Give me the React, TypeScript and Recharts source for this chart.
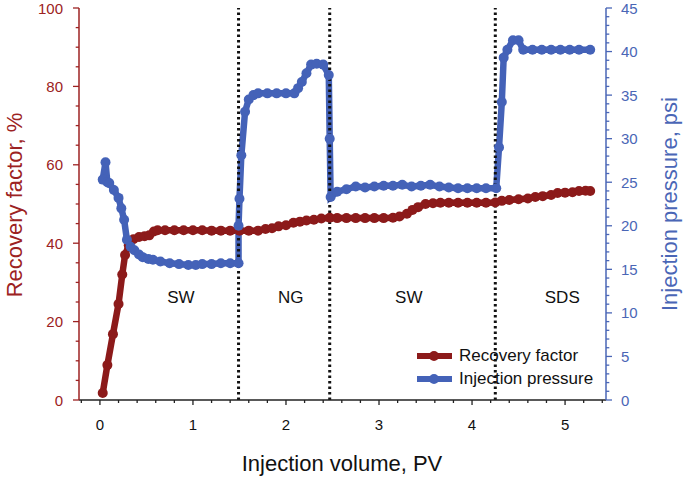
import React from "react";
import {
  Customized,
  Legend,
  Line,
  LineChart,
  ReferenceDot,
  ReferenceLine,
  XAxis,
  YAxis,
} from "recharts";

const RED = "#8c1a1a";
const RED_AXIS = "#9c2222";
const BLUE = "#4462b8";
const BLUE_AXIS = "#4a66b6";
const FONT = "'Liberation Sans', Arial, sans-serif";

const SERIES_ORDER = ["Recovery factor", "Injection pressure"];

// Recovery factor, % (left axis)
const RF_X = [
  0.03, 0.08, 0.14, 0.2, 0.24, 0.27, 0.31, 0.36, 0.42, 0.48, 0.53, 0.58, 0.62,
  0.7, 0.8, 0.9, 1.0, 1.1, 1.2, 1.3, 1.4, 1.5, 1.6, 1.7, 1.78, 1.85, 1.92, 2.0,
  2.08, 2.15, 2.22, 2.3, 2.38, 2.47, 2.55, 2.65, 2.75, 2.85, 2.95, 3.05, 3.15,
  3.22, 3.3, 3.36, 3.42, 3.5, 3.58, 3.66, 3.75, 3.85, 3.95, 4.05, 4.15, 4.25,
  4.32, 4.4, 4.5, 4.6, 4.68, 4.76, 4.85, 4.92, 5.0, 5.08, 5.15, 5.22, 5.27,
];
const RF_Y = [
  1.8, 8.9, 16.8, 24.5, 32, 37, 39.5, 41, 41.6, 41.8, 42, 43, 43.3,
  43.3, 43.3, 43.3, 43.3, 43.3, 43.2, 43.2, 43.2, 43.2, 43.2, 43.2, 43.6, 43.8, 44.3, 44.6,
  45.2, 45.5, 45.8, 46.0, 46.3, 46.5, 46.4, 46.4, 46.4, 46.4, 46.4, 46.4, 46.5,
  46.8, 47.5, 48.5, 49.2, 50, 50.2, 50.3, 50.3, 50.3, 50.3, 50.3, 50.3, 50.4,
  50.8, 51, 51.2, 51.4, 51.8, 52, 52.3, 52.8, 52.9, 53, 53.3, 53.4, 53.3,
];

// Injection pressure, psi (right axis)
const P_X = [
  0.03, 0.06, 0.08, 0.1, 0.15, 0.2, 0.23, 0.26, 0.29, 0.33, 0.37, 0.42, 0.46,
  0.52, 0.57, 0.65, 0.75, 0.85, 0.95, 1.03, 1.1, 1.2, 1.3, 1.4, 1.49, 1.49,
  1.5, 1.52, 1.56, 1.6, 1.65, 1.7, 1.8, 1.9, 2.0, 2.09, 2.13, 2.17, 2.22, 2.27,
  2.33, 2.4, 2.46, 2.47, 2.48, 2.55, 2.65, 2.75, 2.85, 2.95, 3.05, 3.15, 3.25,
  3.35, 3.45, 3.55, 3.65, 3.75, 3.85, 3.95, 4.05, 4.15, 4.26, 4.29, 4.32, 4.34,
  4.38, 4.44, 4.5, 4.55, 4.65, 4.75, 4.85, 4.95, 5.05, 5.15, 5.27,
];
const P_Y = [
  25.3, 27.3, 25, 24.9, 24.1, 23.2, 22, 20.7, 18.4, 17.6, 17.2, 16.7, 16.4,
  16.2, 16.1, 15.9, 15.7, 15.6, 15.5, 15.5, 15.6, 15.6, 15.7, 15.7, 15.7, 20,
  23.1, 28.1, 33.1, 34.5, 35.0, 35.2, 35.2, 35.2, 35.2, 35.2, 35.8, 36.5, 37.5, 38.5,
  38.6, 38.5, 37.3, 30, 23.3, 23.9, 24.2, 24.5, 24.4, 24.5, 24.6, 24.6, 24.7,
  24.5, 24.6, 24.7, 24.5, 24.4, 24.3, 24.3, 24.3, 24.3, 24.3, 29, 34.2, 39.3,
  40.2, 41.3, 41.3, 40.2, 40.2, 40.2, 40.2, 40.2, 40.2, 40.2, 40.2,
];

const X_MAJOR = [0, 1, 2, 3, 4, 5];
const X_TICKS = Array.from({ length: 29 }, (_, i) => Math.round((-0.2 + i * 0.2) * 10) / 10);
const RF_MAJOR = [0, 20, 40, 60, 80, 100];
const RF_TICKS = Array.from({ length: 21 }, (_, i) => i * 5);
const P_MAJOR = [0, 5, 10, 15, 20, 25, 30, 35, 40, 45];
const P_TICKS = Array.from({ length: 46 }, (_, i) => i);

const STAGE_LINES = [1.49, 2.47, 4.25];
const STAGES = [
  { x: 0.87, label: "SW" }, { x: 2.05, label: "NG" },
  { x: 3.32, label: "SW" }, { x: 4.97, label: "SDS" },
];
const STAGE_LABEL_Y = 26.3;

const rfData = RF_X.map((x, i) => ({ x, y: RF_Y[i] }));
const pData = P_X.map((x, i) => ({ x, y: P_Y[i] }));

function makeTick(side: "bottom" | "left" | "right", majors: number[], color: string) {
  return (props: any) => {
    const { x, y, payload } = props;
    const v = payload.value;
    const major = majors.some((m) => Math.abs(m - v) < 1e-6);
    const len = major ? 6 : 3.3;
    if (side === "bottom") {
      return (
        <g>
          <line x1={x} x2={x} y1={y} y2={y + (major ? 5 : 3)} stroke="#222" strokeWidth={1.3} />
          {major && (
            <text x={x} y={y + 30} textAnchor="middle" fontSize={15} fill="#111" fontFamily={FONT}>
              {v}
            </text>
          )}
        </g>
      );
    }
    const dir = side === "left" ? -1 : 1;
    return (
      <g>
        <line x1={x} x2={x + dir * len} y1={y} y2={y} stroke={color} strokeWidth={1.3} />
        {major && (
          <text
            x={side === "left" ? x - 16 : x + 15}
            y={y + 5.5}
            textAnchor={side === "left" ? "end" : "start"}
            fontSize={15}
            fill={color}
            fontFamily={FONT}
          >
            {v}
          </text>
        )}
      </g>
    );
  };
}

function LegendBox(props: any) {
  const items = [...(props.payload || [])].sort(
    (a: any, b: any) => SERIES_ORDER.indexOf(a.value) - SERIES_ORDER.indexOf(b.value)
  );
  return (
    <div style={{ fontFamily: FONT, fontSize: 17, color: "#111", lineHeight: "23px" }}>
      {items.map((it: any) => (
        <div key={it.value} style={{ display: "flex", alignItems: "center" }}>
          <svg width={42} height={12}>
            <line x1={0} x2={35} y1={6} y2={6} stroke={it.color} strokeWidth={6} />
            <circle cx={17} cy={6} r={5} fill={it.color} />
          </svg>
          <span>{it.value}</span>
        </div>
      ))}
    </div>
  );
}

function Titles() {
  return (
    <g fontFamily={FONT} fontSize={22}>
      <text x={342} y={471} textAnchor="middle" fill="#111">Injection volume, PV</text>
      <text x={22} y={205} textAnchor="middle" fill={RED_AXIS} transform="rotate(-90 22 205)">
        Recovery factor, %
      </text>
      <text x={677} y={204} textAnchor="middle" fill={BLUE_AXIS} transform="rotate(-90 677 204)">
        Injection pressure, psi
      </text>
    </g>
  );
}

export default function App() {
  return (
    <div style={{ position: "absolute", left: 0, top: 0, background: "#fff" }}>
      <LineChart width={685} height={479} margin={{ top: 8, right: 0, bottom: 0, left: 0 }}>
        <XAxis
          xAxisId={0}
          dataKey="x"
          type="number"
          domain={[-0.225, 5.44]}
          ticks={X_TICKS}
          interval={0}
          tickSize={0}
          tickMargin={0}
          tickLine={false}
          tick={makeTick("bottom", X_MAJOR, "#111")}
          axisLine={{ stroke: "#222", strokeWidth: 1.5 }}
          height={79}
          allowDataOverflow
        />
        <XAxis xAxisId="top" orientation="top" height={0} tick={false} tickLine={false} axisLine={{ stroke: "#222", strokeWidth: 1.5 }} />
        <YAxis
          yAxisId="left"
          domain={[0, 100]}
          ticks={RF_TICKS}
          interval={0}
          width={79}
          tickSize={0}
          tickMargin={0}
          tickLine={false}
          tick={makeTick("left", RF_MAJOR, RED_AXIS)}
          axisLine={{ stroke: RED_AXIS, strokeWidth: 1.5 }}
        />
        <YAxis
          yAxisId="right"
          orientation="right"
          domain={[0, 45]}
          ticks={P_TICKS}
          interval={0}
          width={79}
          tickSize={0}
          tickMargin={0}
          tickLine={false}
          tick={makeTick("right", P_MAJOR, BLUE_AXIS)}
          axisLine={{ stroke: BLUE_AXIS, strokeWidth: 1.5 }}
        />
        <Line
          yAxisId="left"
          data={rfData}
          dataKey="y"
          name="Recovery factor"
          stroke={RED}
          strokeWidth={6.5}
          dot={{ r: 5, fill: RED, stroke: RED, strokeWidth: 0 }}
          activeDot={false}
          isAnimationActive={false}
        />
        <Line
          yAxisId="right"
          data={pData}
          dataKey="y"
          name="Injection pressure"
          stroke={BLUE}
          strokeWidth={6.5}
          dot={{ r: 5, fill: BLUE, stroke: BLUE, strokeWidth: 0 }}
          activeDot={false}
          isAnimationActive={false}
        />
        {STAGE_LINES.map((x) => (
          <ReferenceLine key={x} x={x} yAxisId="left" stroke="#111" strokeWidth={3} strokeDasharray="2.5 3" />
        ))}
        {STAGES.map((s) => (
          <ReferenceDot
            key={s.label + s.x}
            x={s.x}
            y={STAGE_LABEL_Y}
            yAxisId="left"
            r={0}
            fill="none"
            stroke="none"
            label={{ value: s.label, position: "center", fontSize: 17, fill: "#111", fontFamily: FONT }}
          />
        ))}
        <Legend
          layout="vertical"
          align="center"
          verticalAlign="middle"
          content={<LegendBox />}
          wrapperStyle={{ position: "absolute", left: 417, top: 344, width: 200 }}
        />
        <Customized component={Titles} />
      </LineChart>
    </div>
  );
}
